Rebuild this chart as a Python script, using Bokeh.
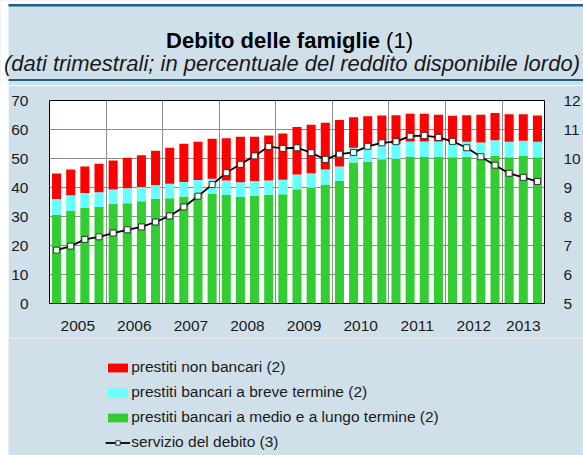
from bokeh.plotting import figure
from bokeh.layouts import column, row
from bokeh.models import (Range1d, LinearAxis, FixedTicker, Label, Legend, Spacer,
                          LegendItem, BoxAnnotation, ColumnDataSource)
from bokeh.embed import file_html
from bokeh.resources import INLINE

# ---------------- data ----------------
years = ["2005", "2006", "2007", "2008", "2009", "2010", "2011", "2012", "2013"]
quarters_per_year = [4, 4, 4, 4, 4, 4, 4, 4, 3]

medio_lungo = [30.6, 31.9, 32.9, 33.3, 34.3, 34.6, 35.3, 36.0, 36.3, 36.9,
               37.8, 37.8, 37.4, 36.7, 37.1, 37.5, 37.7, 39.4, 39.9, 41.0,
               42.2, 48.6, 49.0, 49.7, 49.9, 50.6, 50.5, 50.6, 50.4, 50.6,
               50.1, 50.9, 50.4, 50.9, 50.4]
breve = [5.4, 5.4, 5.2, 5.1, 5.0, 5.1, 4.9, 4.9, 5.0, 5.0,
         4.8, 5.2, 5.0, 5.1, 5.1, 4.9, 5.0, 5.1, 5.0, 5.2,
         5.0, 5.1, 5.1, 5.2, 5.1, 5.3, 5.4, 5.3, 5.1, 5.2,
         5.4, 5.4, 5.4, 5.2, 5.4]
non_bancari = [8.8, 8.9, 9.1, 9.8, 10.0, 10.6, 10.9, 11.8, 12.4, 13.2,
               13.2, 13.8, 14.6, 15.7, 15.3, 15.5, 15.9, 16.4, 16.7, 16.1,
               16.1, 10.5, 10.5, 9.9, 9.9, 9.5, 9.5, 9.2, 9.2, 9.1,
               9.6, 9.4, 9.5, 9.2, 9.0]
servizio = [6.84, 6.98, 7.21, 7.30, 7.43, 7.54, 7.64, 7.81, 8.02, 8.33,
            8.70, 9.10, 9.51, 9.80, 10.09, 10.41, 10.35, 10.37, 10.20, 9.97,
            10.15, 10.21, 10.42, 10.54, 10.58, 10.77, 10.79, 10.73, 10.59, 10.37,
            10.06, 9.77, 9.49, 9.35, 9.21]

left_ticks = [0, 10, 20, 30, 40, 50, 60, 70]
right_ticks = [5, 6, 7, 8, 9, 10, 11, 12]

title_bold = "Debito delle famiglie"
title_note = "(1)"
subtitle = "(dati trimestrali; in percentuale del reddito disponibile lordo)"
labels = ["prestiti non bancari (2)",
          "prestiti bancari a breve termine (2)",
          "prestiti bancari a medio e a lungo termine (2)",
          "servizio del debito (3)"]

# ---------------- style / layout constants ----------------
WT = 583                 # total width
LM = 8                   # white strip on the left
W = WT - LM              # width of chart + legend panels
HH, HM, HL = 85, 253, 117          # header, main, legend heights (total 455)
FL, FR, FT, FB = 41, 36, 15, 35    # main figure borders
N = len(medio_lungo)
FONT = "Liberation Sans"
TXT = "#1a1a1a"
BG = "#d0e0ea"
DARK = "#1f5d85"
RED, CYAN, GREEN = "#ff0000", "#66ffff", "#33cc33"


def bare_figure(w, h):
    f = figure(width=w, height=h, x_range=Range1d(0, w), y_range=Range1d(h, 0),
               output_backend="svg", toolbar_location=None, title=None,
               x_axis_location=None, y_axis_location=None,
               min_border_left=0, min_border_right=0, min_border_top=0, min_border_bottom=0)
    f.frame_align = False
    f.background_fill_color = BG
    f.border_fill_color = BG
    f.outline_line_color = None
    f.grid.visible = False
    return f


# ---------------- header ----------------
ph = bare_figure(WT, HH)
ph.add_layout(BoxAnnotation(left=0, right=WT, top=0, bottom=3.5,
                            fill_color="white", fill_alpha=1, line_color=None))
ph.add_layout(BoxAnnotation(left=0, right=LM, top=0, bottom=HH,
                            fill_color="white", fill_alpha=1, line_color=None))
ph.add_layout(BoxAnnotation(left=LM, right=WT, top=3.5, bottom=6,
                            fill_color=DARK, fill_alpha=1, line_color=None))
ph.add_layout(BoxAnnotation(left=LM, right=WT, top=78.5, bottom=80.5,
                            fill_color=DARK, fill_alpha=1, line_color=None))
ph.add_layout(Label(x=379.5, y=39.5, text=title_bold, text_align="right",
                    text_baseline="alphabetic", text_font=FONT, text_font_style="bold",
                    text_font_size="22px", text_color="black"))
ph.add_layout(Label(x=385.6, y=39.5, text=title_note, text_align="left",
                    text_baseline="alphabetic", text_font=FONT, text_font_size="22px",
                    text_color="black"))
ph.add_layout(Label(x=291.5, y=63, text=subtitle, text_align="center",
                    text_baseline="alphabetic", text_font=FONT, text_font_style="italic",
                    text_font_size="22px", text_color=TXT))

# ---------------- main chart ----------------
xs = list(range(N))
year_pos, boundaries = [], []
start = 0
for nq in quarters_per_year:
    year_pos.append(start + (nq - 1) / 2.0)
    if start > 0:
        boundaries.append(start - 0.5)
    start += nq

src = ColumnDataSource(dict(x=xs, ml=medio_lungo, br=breve, nb=non_bancari, sv=servizio))

p = figure(width=W, height=HM, x_range=Range1d(-0.5, N - 0.5), y_range=Range1d(0, 70),
           output_backend="svg", toolbar_location=None, title=None,
           min_border_left=FL, min_border_right=FR, min_border_top=FT, min_border_bottom=FB)
p.frame_align = False
p.extra_y_ranges = {"right": Range1d(5, 12)}
p.background_fill_color = "white"
p.border_fill_color = BG
p.outline_line_color = "black"
p.outline_line_width = 1

bars = p.vbar_stack(["ml", "br", "nb"], x="x", width=0.64, color=[GREEN, CYAN, RED],
                    line_color=None, source=src)
p.line("x", "sv", source=src, y_range_name="right", line_color="black", line_width=1.8)
p.scatter("x", "sv", source=src, y_range_name="right", marker="square", size=6,
          fill_color="white", line_color="#333333", line_width=1)

raxis = LinearAxis(y_range_name="right")
p.add_layout(raxis, "right")
p.yaxis[0].ticker = FixedTicker(ticks=left_ticks)
raxis.ticker = FixedTicker(ticks=right_ticks)
p.xaxis.ticker = FixedTicker(ticks=year_pos)
p.xaxis.major_label_overrides = {pos: y for pos, y in zip(year_pos, years)}

for ax in [p.xaxis[0], p.yaxis[0], raxis]:
    ax.axis_line_color = None
    ax.major_tick_line_color = None
    ax.minor_tick_line_color = None
    ax.major_label_text_font = FONT
    ax.major_label_text_font_size = "15.5px"
    ax.major_label_text_color = TXT
p.yaxis[0].major_label_standoff = 15
raxis.major_label_standoff = 13
p.xaxis.major_label_standoff = 11

p.ygrid.ticker = FixedTicker(ticks=left_ticks)
p.xgrid.ticker = FixedTicker(ticks=boundaries)
for g in [p.xgrid[0], p.ygrid[0]]:
    g.grid_line_color = "#8c8c8c"
    g.grid_line_width = 1

# ---------------- legend panel ----------------
pl = bare_figure(W, HL)
# legend proxies: one point placed outside the visible range
proxy = ColumnDataSource(dict(x=[-100], y=[-100]))
r_red = pl.vbar(x="x", top="y", width=1, source=proxy, fill_color=RED, line_color=None)
r_cyan = pl.vbar(x="x", top="y", width=1, source=proxy, fill_color=CYAN, line_color=None)
r_green = pl.vbar(x="x", top="y", width=1, source=proxy, fill_color=GREEN, line_color=None)
r_line = pl.line(x="x", y="y", source=proxy, line_color="black", line_width=1.8)
r_sq = pl.scatter(x="x", y="y", source=proxy, marker="square", size=6,
                  fill_color="white", line_color="#333333", line_width=1)

legend = Legend(items=[LegendItem(label=labels[0], renderers=[r_red]),
                       LegendItem(label=labels[1], renderers=[r_cyan]),
                       LegendItem(label=labels[2], renderers=[r_green]),
                       LegendItem(label=labels[3], renderers=[r_line, r_sq])],
                location=(97.2, 4), orientation="vertical",
                glyph_width=25, glyph_height=11, label_height=18, spacing=7,
                padding=0, margin=0, border_line_color=None, background_fill_alpha=0,
                label_text_font=FONT, label_text_font_size="15.5px", label_text_color=TXT,
                label_standoff=1)
pl.add_layout(legend)

body = row(Spacer(width=LM, height=HM + HL), column(p, pl, spacing=0), spacing=0)
layout = column(ph, body, spacing=0)
open("out.html", "w").write(file_html(layout, INLINE))
